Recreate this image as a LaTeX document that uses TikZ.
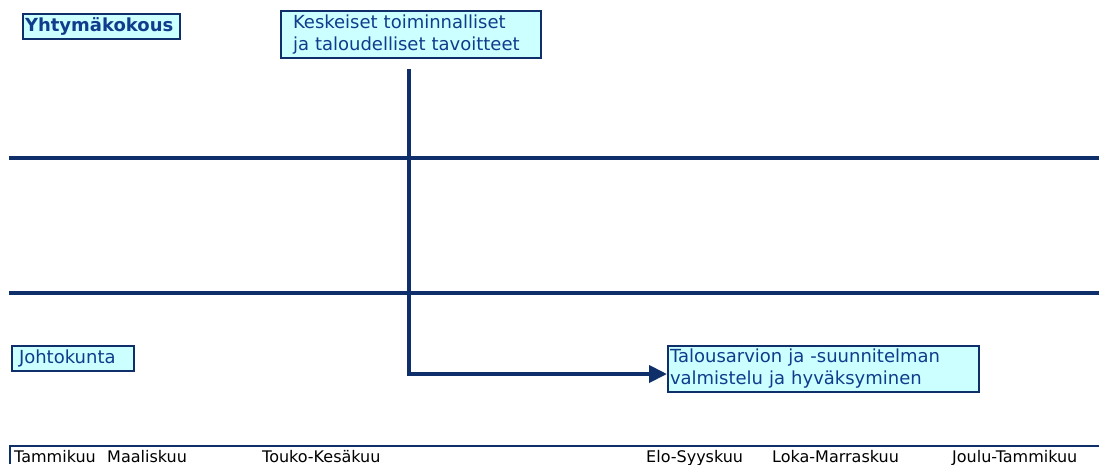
\documentclass[tikz,border=0pt]{standalone}
\usepackage{fontspec}
\setmainfont{DejaVu Sans}
\usetikzlibrary{arrows.meta,calc}
\definecolor{navy}{RGB}{14,47,105}
\definecolor{boxfill}{RGB}{204,255,255}
\definecolor{lbl}{RGB}{16,60,140}
\tikzset{
  boxnode/.style={draw=navy,line width=2pt,fill=boxfill,text=lbl,align=left,anchor=north west,inner ysep=1pt,font=\fontsize{18}{22}\selectfont},
  heavy/.style={draw=navy,line width=4pt},
  month/.style={anchor=base west,font=\fontsize{16}{18}\selectfont,text=black,inner sep=0pt}
}
\begin{document}
\begin{tikzpicture}[x=1pt,y=-1pt]
\useasboundingbox (0,0) rectangle (1099,464);
% lanes
\draw[heavy] (9,158) -- (1099,158);
\draw[heavy] (9,293) -- (1099,293);
% boxes
\node[boxnode,inner xsep=2pt,text width=153pt,minimum height=25pt,font=\bfseries\fontsize{18}{22}\selectfont] (yht) at (22,13) {Yhtymäkokous};
\node[boxnode,inner xsep=12pt,text width=236pt,minimum height=47pt] (kesk) at (280,10) {Keskeiset toiminnalliset\\ja taloudelliset tavoitteet};
\node[boxnode,inner xsep=7pt,text width=108pt,minimum height=25pt] (joh) at (11,345) {Johtokunta};
\node[boxnode,inner xsep=2pt,text width=307pt,minimum height=46pt] (tal) at (667,345) {Talousarvion ja -suunnitelman\\valmistelu ja hyväksyminen};
% connector
\coordinate (start) at ($(kesk.south)+(-2,10)$);
\draw[heavy,-{Triangle[length=18pt,width=17pt]}] (start) |- ($(tal.west)+(0,5)$);
% time axis
\draw[draw=navy,line width=2pt] (10,464) -- (10,446) -- (1099,446);
\node[month] (m1) at (14,462) {Tammikuu};
\node[month] (m2) at (107,462) {Maaliskuu};
\node[month] (m3) at (262,462) {Touko-Kesäkuu};
\node[month] (m4) at (646,462) {Elo-Syyskuu};
\node[month] (m5) at (772,462) {Loka-Marraskuu};
\node[month] (m6) at (952,462) {Joulu-Tammikuu};
\end{tikzpicture}
\end{document}
